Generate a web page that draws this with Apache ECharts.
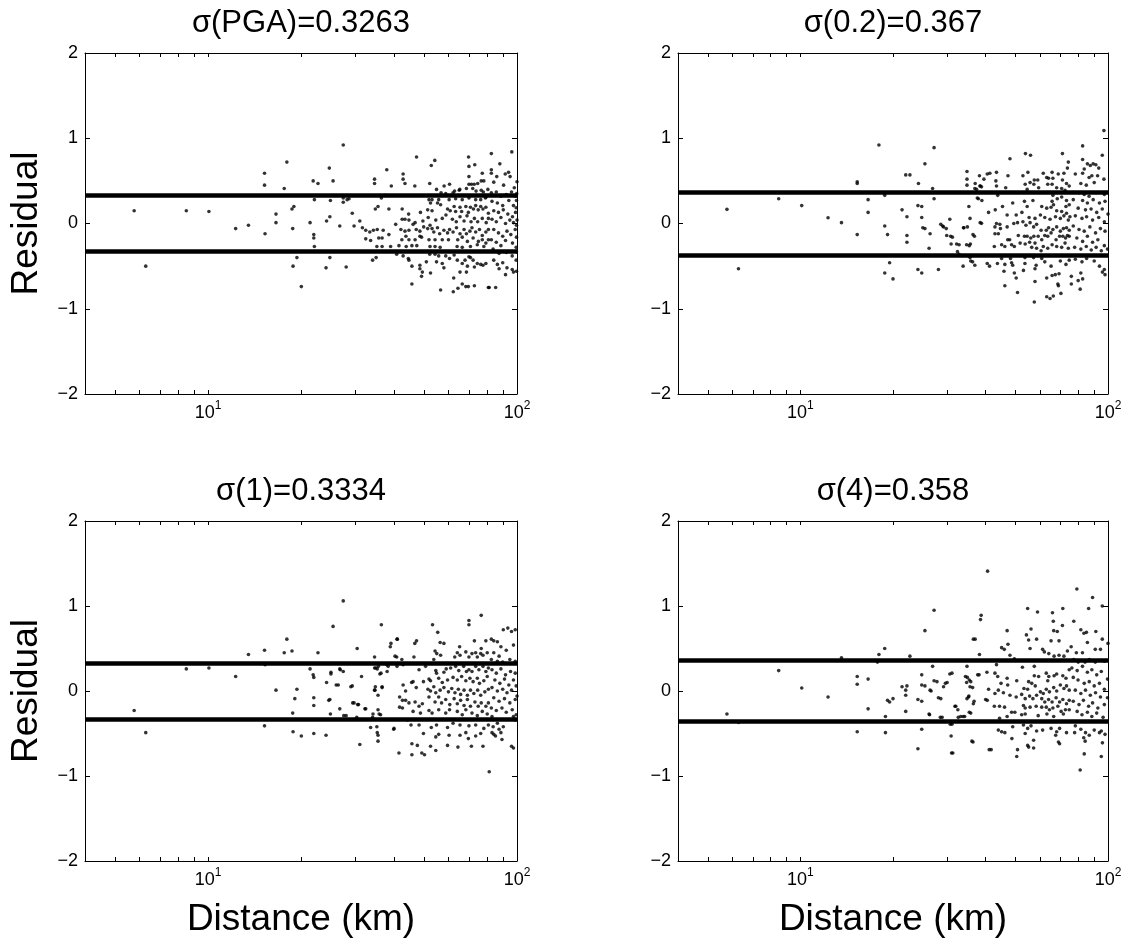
<!DOCTYPE html>
<html>
<head>
<meta charset="utf-8">
<script src="https://cdn.jsdelivr.net/npm/echarts@6.0.0/dist/echarts.min.js"></script>
<style>
html,body{margin:0;padding:0;background:#fff;}
#chart{width:1131px;height:949px;}
</style>
</head>
<body>
<div id="chart"></div>
<script>
// ---------- data ----------
const panelTitles = ['σ(PGA)=0.3263', 'σ(0.2)=0.367', 'σ(1)=0.3334', 'σ(4)=0.358'];
const sigmaValues = [0.3263, 0.367, 0.3334, 0.358];
const xRange = [4, 100];
const yRange = [-2, 2];
const xLabelTicks = [10, 100];
const xAllTicks = [5, 6, 7, 8, 9, 10, 20, 30, 40, 50, 60, 70, 80, 90, 100];
const yTickStep = 1;
const xAxisTitle = 'Distance (km)';
const yAxisTitle = 'Residual';

// [distance (km), residual]
const residualsPGA = [
[5.77,0.15],[6.29,-0.50],[8.51,0.15],[10.07,0.14],[12.29,-0.06],[13.52,-0.02],[15.24,0.59],[15.24,0.45],[15.3,-0.12],[16.6,0.11],[16.6,0.01],[17.65,0.41],[18.0,0.72],[18.7,0.17],[18.97,0.20],[18.8,-0.06],[18.85,-0.50],[19.4,-0.40],[20.05,-0.74],[21.4,0.01],[21.9,0.50],[22.7,0.47],[22.0,-0.13],[22.0,-0.17],[22.1,-0.27],[22.1,0.28],[24.2,0.03],[24.7,0.65],[24.8,0.08],[24.9,0.27],[24.8,-0.40],[24.1,-0.52],[25.4,0.50],[26.7,-0.03],[27.4,0.92],[27.4,0.30],[27.4,0.25],[28.0,-0.51],[28.6,0.29],[29.3,0.12],[29.7,-0.03],[31.0,0.03],[31.6,-0.05],[32.4,-0.18],[33.6,-0.20],[34.1,-0.43],[34.6,0.52],[34.6,0.47],[34.8,0.17],[35.0,-0.40],[35.2,-0.27],[35.3,-0.07],[36.4,0.30],[36.9,-0.08],[37.9,0.63],[37.5,0.33],[39.2,0.44],
[28.2,0.28],[35.5,0.20],[38.5,0.17],[32.4,-0.08],[33.4,-0.10],[34.3,-0.08],[35.7,-0.17],[36.6,-0.17],[38.5,-0.13],[36.6,-0.27],[39.0,-0.27],
[47.3,0.78],[54.2,0.74],[52.8,0.68],[69.7,0.78],[69.9,0.67],[73,0.69],[77.2,0.59],
[42.8,0.58],[42.8,0.52],[43.4,0.47],[46.7,0.44],[52.2,0.47],[54.9,0.40],[58.1,0.44],[60.5,0.46],[68.6,0.41],[69.9,0.46],[71.2,0.46],[72.7,0.46],[74.6,0.47],[76.6,0.50],[78.1,0.50],[80.5,0.40],[62.8,0.38],[65.3,0.40],[71.9,0.41],[73.7,0.38],[76.6,0.39],[69.9,0.55],
[56.8,0.36],[58.8,0.35],[62.1,0.36],[65,0.39],[77.8,0.37],[79.5,0.31],[51.9,0.28],[53.1,0.28],[55.8,0.28],[60.3,0.28],[63.3,0.29],[66.5,0.28],[69.9,0.30],[73.5,0.28],[76.3,0.28],[79,0.30],
[52.5,0.24],[55.3,0.24],[56.6,0.22],[59.6,0.17],[60.8,0.15],[62.6,0.20],[63.3,0.14],[65.4,0.19],[66.2,0.14],[68.3,0.20],[69.6,0.13],[70.7,0.19],[72.3,0.17],[73.5,0.21],[74.9,0.16],[76.3,0.20],[77.6,0.17],[79.3,0.19],[80.8,0.12],[51.4,0.16],[53.1,0.15],[48.7,0.13],[42.5,0.17],[44.6,0.11],[43.4,0.05],[42.5,0.05],[44.7,0.04],[46.8,0.01],[49.6,0.03],[51.6,0.07],[54.6,0.04],[57.3,0.06],[58.9,0.10],[61.8,0.05],[63.6,0.02],[65.4,0.08],[67.4,0.03],[68.9,0.09],[71,0.02],[72.8,0.06],[74.6,0.02],[77.2,0.06],[79.5,0.01],[80.8,0.06],
[40.5,-0.01],[42.1,-0.07],[43.4,-0.09],[44.7,-0.08],[46.1,-0.01],[47.2,-0.07],[48.5,-0.09],[49.9,-0.04],[51.4,-0.06],[52.3,-0.02],[53.1,-0.06],[53.8,-0.10],[55.3,-0.05],[56.2,-0.12],[58,-0.08],[59.6,-0.11],[60.5,-0.07],[62.1,-0.10],[63.7,-0.05],[65.4,-0.12],[67.4,-0.07],[68.6,-0.12],[70.4,-0.09],[71.5,-0.05],[73.5,-0.10],[75.6,-0.07],[77.2,-0.14],[79.3,-0.10],[80.8,-0.07],[43.7,-0.15],[49.1,-0.16],
[42.4,-0.19],[44.7,-0.19],[46.8,-0.19],[48.5,-0.15],[51.9,-0.19],[54.3,-0.19],[57.3,-0.19],[60,-0.19],[64.3,-0.19],[66.5,-0.16],[69.1,-0.21],[72.1,-0.17],[75,-0.21],[77.2,-0.19],[79.3,-0.23],[80.8,-0.19],[41.5,-0.26],[43.8,-0.27],[45.7,-0.26],[47.4,-0.26],[52.3,-0.27],[54.3,-0.27],[56.4,-0.28],[64,-0.27],[66.5,-0.28],[70.7,-0.27],[74.4,-0.25],[78.1,-0.27],
[40.8,-0.36],[42.8,-0.38],[44.5,-0.41],[44.7,-0.43],[45.7,-0.50],[48.5,-0.49],[48.5,-0.53],[49.4,-0.57],[49.1,-0.62],[50.9,-0.45],[52.2,-0.36],[54.3,-0.36],[54.9,-0.45],[57.3,-0.47],[55.8,-0.38],[58,-0.52],[58.8,-0.38],[60.5,-0.41],[62.6,-0.37],[64.1,-0.43],[65.4,-0.57],[66.5,-0.47],[67.9,-0.43],[69.1,-0.50],[69.9,-0.39],[70.7,-0.40],[72.1,-0.43],[72.8,-0.51],[74.4,-0.47],[76.3,-0.48],[77.6,-0.49],[79.3,-0.47],[68.6,-0.57],[62.4,-0.64],[52.5,-0.58],[45.7,-0.71],[56.6,-0.78],[62.2,-0.80],[64.4,-0.76],[66.5,-0.71],[68.3,-0.74],[69.6,-0.74],[72.8,-0.73],[80.8,-0.75],
[82.6,0.82],[82.6,0.63],[82.6,0.59],[88.0,0.70],[91.6,0.58],[93.9,0.60],[96.2,0.84],[100,0.49],[84.1,0.485],[82.6,0.36],[85.7,0.37],[88.7,0.32],[92.3,0.34],[96.0,0.37],[98.7,0.32],[83.0,0.26],[86.4,0.24],[89.9,0.21],[94.1,0.27],[97.4,0.21],[99.4,0.185],[84.1,0.15],[87.1,0.13],[90.3,0.16],[93.4,0.11],[96.7,0.08],[98.9,0.13],[83.0,0.05],[85.7,0.02],[88.7,0.07],[91.8,0.00],[94.8,0.04],[97.4,0.01],[100,0.04],[84.1,-0.07],[87.1,-0.11],[89.9,-0.15],[92.8,-0.09],[95.5,-0.13],[98.7,-0.07],[82.6,-0.19],[85.7,-0.22],[88.7,-0.26],[91.8,-0.20],[96.7,-0.23],[99.4,-0.28],[83.7,-0.30],[87.5,-0.35],[92.3,-0.34],[96.5,-0.38],[99.4,-0.43],[84.1,-0.43],[86.4,-0.48],[89.9,-0.46],[92.8,-0.52],[96.5,-0.54],[97.4,-0.57],[91.8,-0.60],[87.5,-0.53],[81.3,-0.75],[85.3,-0.75],
[99.6,0.27],[99.6,-0.02],[99.6,-0.16],[99.6,-0.33],[99.6,-0.56],[99.8,0.35],[90.5,0.45],[95,0.55],[98,0.42],[86,0.55]
];

const residuals02 = [
[5.77,0.166],[6.29,-0.53],[8.5,0.29],[10.1,0.21],[12.3,0.068],[13.6,0.01],[15.3,0.49],[15.3,0.47],[15.3,-0.13],[16.6,0.28],[16.6,0.13],[18.0,0.92],[18.8,0.33],[18.8,-0.03],[19.2,-0.13],[19.5,-0.46],[18.8,-0.58],[20.0,-0.65],[21.4,0.16],[22.0,0.57],[22.7,0.57],[22.2,0.08],[22.2,-0.14],[22.2,-0.22],[24.2,0.47],[24.1,0.21],[24.8,0.20],[24.8,0.07],[25.0,-0.05],[24.1,-0.54],[24.8,-0.58],[25.4,0.70],[26.2,-0.29],[26.4,-0.12],[27.2,0.89],[26.9,0.41],[27.2,0.29],[28.1,-0.54],[28.6,-0.01],[29.2,-0.04],[30.6,0.05],[29.9,-0.14],[30.8,-0.15],[31.2,-0.16],[30.9,-0.24],[32.2,-0.24],[32.4,-0.33],[33.9,-0.05],[33.8,-0.50],[34.8,0.61],[34.8,0.52],[34.8,0.45],[35.3,0.20],[35.6,0.06],[35.4,-0.26],[35.2,-0.38],[35.8,-0.44],[36.4,-0.13],[36.9,-0.49],[36.9,0.41],[38.2,0.56],[37.9,0.29],[38.4,0.01],[38.9,0.27],[40.5,0.58],[41.2,-0.50],
[25.4,-0.06],[29,-0.03],[29.8,-0.06],[32.8,-0.25],[32.8,-0.36],[34.0,-0.05],[34.9,-0.04],[34.7,-0.25],[35.7,-0.24],[35.6,-0.40],[36.3,-0.45],[37,0.47],[37.4,0.40],[37.6,0.30],[38.4,0.44],[36.8,-0.15],[40.5,-0.47],
[48.0,0.76],[53.9,0.82],[56.0,0.80],[71.1,0.82],[74.3,0.72],[73.8,0.65],
[41.3,0.59],[43.4,0.60],[47.3,0.56],[52.9,0.56],[54.9,0.60],[57.6,0.51],[59.1,0.51],[61.6,0.59],[63.2,0.54],[65.8,0.60],[64.1,0.53],[66.2,0.53],[68.9,0.58],[71.9,0.59],[71.1,0.51],[73.3,0.47],[43.2,0.50],[39.5,0.52],[38.4,0.44],[38.8,0.43],[43.4,0.44],[46.5,0.42],[53.8,0.46],[55.8,0.48],[57.4,0.46],[59.5,0.42],[54.6,0.40],[63.7,0.46],[65.8,0.46],[68.1,0.42],[70.7,0.41],[72.5,0.39],[74.8,0.44],
[43.8,0.33],[66.2,0.33],[68.4,0.29],[70.7,0.31],[73.3,0.27],[65.8,0.26],[66.5,0.22],[73,0.20],[74.8,0.22],[53.5,0.26],[57,0.27],[49.0,0.24],[54.6,0.20],[60.9,0.20],[63.2,0.18],[65.3,0.19],[68.1,0.15],[70.7,0.14],[73.3,0.12],[75.2,0.08],[40.9,0.13],[43,0.16],[45.4,0.20],[47.0,0.10],[50.3,0.10],[52.5,0.13],[55.4,0.07],[57.9,0.06],[60.3,0.10],[62.3,0.07],[64.8,0.05],[67.5,0.08],[70.0,0.06],[71.9,0.09],[74.3,0.04],
[38.8,0.002],[43.4,0.0],[44.5,-0.01],[42.9,-0.04],[44.7,-0.06],[47.0,-0.04],[49.4,0.00],[50.8,0.01],[52.9,0.02],[54.1,-0.02],[55.8,0.01],[57.3,-0.04],[58.6,-0.01],[60.6,-0.08],[63,-0.08],[64.1,-0.05],[66.2,-0.07],[68.1,-0.04],[70,-0.09],[71.6,-0.06],[73.3,-0.05],[74.8,-0.08],
[42.9,-0.12],[44.0,-0.12],[47.2,-0.19],[47.9,-0.19],[51.1,-0.14],[53.5,-0.15],[54.6,-0.15],[56.1,-0.17],[57.4,-0.15],[59.3,-0.15],[60.9,-0.19],[62.3,-0.14],[63.7,-0.15],[65.3,-0.11],[67.8,-0.19],[69.6,-0.15],[71.3,-0.15],[72.8,-0.17],[73.8,-0.14],[74.8,-0.15],
[45.1,-0.25],[46.2,-0.27],[48.6,-0.25],[49.6,-0.27],[51.8,-0.23],[53.8,-0.24],[55.6,-0.22],[56.5,-0.28],[57.9,-0.23],[58.6,-0.29],[60.6,-0.32],[61.6,-0.27],[63.7,-0.29],[65.8,-0.25],[68.1,-0.27],[70.7,-0.28],[72.5,-0.23],[74.3,-0.29],[42.7,-0.27],
[45.1,-0.41],[48.2,-0.41],[53.7,-0.40],[57.3,-0.40],[60.9,-0.41],[43.7,-0.47],[46.2,-0.48],[48.6,-0.46],[49.0,-0.49],[53.7,-0.47],[58.4,-0.49],[62.3,-0.45],[65.3,-0.50],[70.0,-0.44],[73.0,-0.48],[74.8,-0.43],[45.9,-0.56],[49.6,-0.58],[53.1,-0.55],[57.9,-0.53],[50.3,-0.64],[63.2,-0.64],[65.8,-0.61],[67.4,-0.60],[69.3,-0.59],[57.9,-0.68],[68.7,-0.71],[69,-0.73],[46.2,-0.73],[50.8,-0.81],[63.2,-0.86],[64.8,-0.88],[66.4,-0.85],[70.3,-0.82],[57.6,-0.92],
[97,1.09],[82.7,0.91],[95.8,0.80],[82.7,0.75],[85.7,0.70],[87.6,0.68],[89.5,0.70],[91.3,0.69],[93.3,0.65],[83.7,0.64],[78.3,0.58],[82.7,0.59],[88.6,0.56],[86.8,0.54],[92.5,0.56],[97,0.52],[81.6,0.47],[85,0.45],[90.2,0.48],[80.5,0.36],[83.7,0.34],[86.8,0.32],[91.7,0.36],[97.3,0.34],[77.1,0.28],[82.7,0.27],[85.7,0.24],[89.5,0.28],[93.8,0.24],[97.8,0.26],[80.0,0.18],[84.5,0.16],[88.1,0.17],[91.9,0.13],[95.8,0.17],[100,0.11],[78.3,0.09],[82.3,0.06],[85.2,0.08],[89.1,0.04],[93.3,0.07],[97.3,0.02],[77.1,-0.03],[80.5,-0.07],[83.7,-0.09],[87.3,-0.04],[91.1,-0.11],[94.5,-0.06],[97.8,-0.09],[79.2,-0.17],[82.7,-0.21],[85.7,-0.15],[89.1,-0.22],[92.7,-0.19],[97.3,-0.26],[77.9,-0.28],[81.6,-0.30],[85.0,-0.27],[88.2,-0.31],[91.5,-0.28],[95.1,-0.32],[99.6,-0.30],[78.3,-0.42],[82.3,-0.45],[85.2,-0.41],[90.2,-0.44],[93.8,-0.50],[97.3,-0.54],[95.9,-0.57],[97.8,-0.60],[81.6,-0.58],[76,-0.62],[80,-0.67],[82.7,-0.65],[81.2,-0.77],[76,-0.71]
];

const residuals1 = [
[5.77,-0.23],[6.29,-0.49],[8.51,0.26],[10.07,0.27],[12.29,0.17],[13.52,0.43],[15.24,0.48],[15.3,0.31],[15.24,-0.41],[16.6,0.01],[17.65,0.45],[18.0,0.61],[18.7,0.47],[18.8,-0.26],[18.85,-0.48],[19.1,-0.09],[19.4,0.02],[20.05,-0.53],[21.4,0.26],[21.9,0.19],[22.0,0.16],[22.0,-0.08],[22.0,-0.17],[22.0,-0.50],[22.7,0.45],[24.1,-0.52],[24.2,0.10],[24.8,-0.10],[24.9,-0.27],[25.0,0.22],[25.4,0.76],[26.4,0.07],[26.7,-0.21],[26.8,0.25],[27.4,1.06],[27.4,0.23],[28.0,-0.29],[29.3,0.06],[29.7,-0.14],[30.4,0.50],[30.7,-0.16],[31.0,-0.63],[31.4,0.17],[32.4,-0.21],[33.6,-0.43],[34.1,-0.31],[34.6,0.40],[34.6,0.27],[34.6,0.01],[34.8,0.05],[35.2,-0.42],[35.3,-0.49],[35.5,-0.59],[35.6,0.29],[36.4,0.78],[36.3,0.21],[36.6,0.05],[36.2,-0.28],[37.9,0.31],[38.9,0.52],[39.9,-0.45],[40.9,0.61],[40.3,0.41],
[25.0,0.20],[26.7,0.26],[34.9,0.27],[35.3,0.26],[38.3,0.29],[38.0,0.23],[36,0.20],[26.0,0.07],[29.0,0.05],[24.6,-0.11],[34.7,0.01],[36.6,0.04],[35.5,-0.05],[29.4,-0.14],[30.5,-0.16],[32.2,-0.21],[35.5,-0.22],[34.2,-0.27],[35.8,-0.27],[27.5,-0.29],[30.3,-0.31],[35.5,-0.52],[39.1,0.56],[40,-0.44],
[53.3,0.78],[55.4,0.69],[69.9,0.83],[69.9,0.78],[76.6,0.89],[47.3,0.59],[46.7,0.56],[41.0,0.61],[56.4,0.57],[58.0,0.56],[54.3,0.47],[55.0,0.44],[56.6,0.42],[65.2,0.52],[72.8,0.59],[79.3,0.59],[64.1,0.45],[65.4,0.42],[68.3,0.46],[71.5,0.44],[73.5,0.45],[76.3,0.44],[77.6,0.42],[76.6,0.50],[80.1,0.45],[69.9,0.40],[74.4,0.40],[62.9,0.40],[40.8,0.40],[42.4,0.37],[46.4,0.40],[53.8,0.37],
[40.9,0.29],[42.8,0.31],[48.2,0.25],[50.6,0.29],[54.6,0.24],[54.9,0.21],[58.0,0.22],[59.0,0.26],[61.0,0.27],[63.3,0.29],[64.8,0.24],[67.2,0.29],[68.6,0.23],[69.9,0.25],[71.5,0.23],[73.5,0.29],[75.3,0.25],[77.6,0.29],[79.3,0.23],[80.8,0.27],[51.9,0.14],[52.5,0.12],[55.8,0.15],[57.3,0.10],[59.6,0.13],[62.1,0.16],[64.1,0.13],[66.2,0.17],[68.3,0.12],[70.4,0.15],[72.1,0.11],[74.4,0.15],[75.6,0.09],[78.1,0.12],[80.1,0.17],[42.8,0.07],[43.6,0.0],[45.6,0.10],[46.1,0.11],[47.2,0.04],[49.8,0.11],[51.5,0.02],[52.5,0.0],[53.8,0.05],[54.6,-0.02],[56.4,0.01],[58.0,0.04],[60.0,-0.01],[61.5,0.03],[63.0,-0.02],[64.6,0.02],[65.7,-0.04],[67.4,0.01],[69.1,-0.05],[70.7,0.01],[72.5,-0.03],[74.6,0.01],[76.3,-0.05],[78.7,-0.01],[80.8,0.02],
[41.7,-0.07],[42.6,-0.11],[43.6,-0.11],[44.7,-0.14],[41.7,-0.19],[42.6,-0.20],[46.8,-0.13],[49.4,-0.15],[51.9,-0.07],[54.3,-0.13],[55.8,-0.07],[57.0,-0.14],[58.8,-0.10],[60.6,-0.16],[62.6,-0.09],[64.1,-0.15],[65.7,-0.11],[67.4,-0.17],[69.1,-0.10],[70.7,-0.18],[73.1,-0.13],[74.9,-0.18],[76.6,-0.14],[79.3,-0.18],[80.8,-0.14],[48.2,-0.18],[46.1,-0.24],[48.7,-0.26],[51.9,-0.23],[53.1,-0.26],[55.8,-0.22],[58.8,-0.26],[60.5,-0.22],[64.1,-0.24],[66.5,-0.28],[68.3,-0.22],[71.5,-0.26],[74.4,-0.29],[77.2,-0.24],[80.1,-0.27],[44.2,-0.34],
[45.4,-0.40],[48.2,-0.40],[52.8,-0.43],[54.9,-0.40],[59.6,-0.43],[62.1,-0.38],[65.4,-0.40],[69.9,-0.41],[73.5,-0.40],[78.1,-0.44],[80.8,-0.40],[49.8,-0.50],[55.8,-0.51],[54.6,-0.54],[60.3,-0.52],[65.4,-0.52],[68.3,-0.49],[69.6,-0.56],[73.5,-0.53],[76.3,-0.50],[77.6,-0.65],[45.7,-0.62],[47.6,-0.64],[52.5,-0.65],[54.6,-0.70],[59.6,-0.64],[64.4,-0.66],[71.2,-0.65],[41.5,-0.73],[45.7,-0.75],[49.2,-0.73],[50.2,-0.75],
[81.3,-0.95],[82.6,0.61],[84.1,0.59],[86.4,0.58],[88.7,0.52],[90.3,0.72],[93.4,0.74],[96.0,0.70],[98.7,0.72],[97.4,0.54],[92.3,0.48],[84.1,0.45],[87.5,0.41],[82.6,0.37],[86.4,0.35],[89.9,0.34],[94.8,0.37],[98.7,0.35],[83,0.25],[85.7,0.21],[88.7,0.26],[91.8,0.19],[95.3,0.23],[98.7,0.21],[84.8,0.13],[88,0.09],[91.1,0.14],[94.1,0.07],[97.4,0.13],[99.4,0.06],[83,0.04],[86.4,0.0],[89.9,0.02],[92.8,-0.02],[96,0.01],[100,-0.06],[84.1,-0.08],[87.5,-0.12],[91.1,-0.09],[94.8,-0.14],[98.7,-0.10],[82.6,-0.20],[85.7,-0.23],[89.4,-0.20],[92.3,-0.25],[96.5,-0.22],[99.4,-0.28],[83,-0.30],[97.4,-0.30],[98.7,-0.34],[86.4,-0.38],[83.7,-0.42],[87.5,-0.45],[90.3,-0.42],[83,-0.49],[85.2,-0.53],[88.7,-0.49],[96,-0.65],[97.4,-0.67],[89.4,-0.57],[84.1,-0.51]
];

const residuals4 = [
[5.77,-0.27],[6.3,-0.37],[8.5,0.24],[10.1,0.035],[12.3,-0.07],[13.6,0.39],[15.3,0.17],[15.3,0.08],[15.3,-0.48],[16.6,0.14],[16.6,-0.21],[17.8,0.34],[18.0,0.43],[18.8,0.50],[18.9,-0.30],[18.9,-0.49],[19.2,-0.11],[19.5,-0.13],[20.0,-0.09],[21.4,0.05],[22.0,0.01],[22.2,0.06],[22.0,-0.05],[22.0,-0.24],[22.7,0.41],[24.1,-0.10],[24.8,-0.12],[24.1,-0.68],[24.8,0.19],[24.8,0.07],[24.8,-0.45],[25.4,0.71],[26.2,-0.27],[26.4,0.01],[26.9,0.29],[27.2,0.95],[27.2,0.12],[28.1,-0.08],[28.5,-0.31],[29.2,0.05],[29.6,0.09],[30.6,0.20],[30.7,-0.39],[30.9,-0.53],[31.0,-0.73],[31.8,-0.18],[32.5,-0.22],[32.6,-0.31],[33.8,-0.30],[34.4,0.17],[34.9,0.16],[34.8,0.29],[34.8,-0.09],[35.2,-0.07],[35.4,0.13],[35.6,0.05],[35.4,-0.25],[36.1,-0.59],[36.5,0.61],[36.7,-0.12],[37.7,0.19],[38.2,0.43],[38.5,0.84],[38.7,0.89],[40.0,-0.10],[40.6,1.41],[40.4,0.22],[40.9,0.02],[41.1,-0.69],
[25.4,0.06],[27.8,0.11],[30.0,0.10],[31.1,0.21],[34.7,0.10],[35.8,0.11],[36.3,0.04],[35.3,-0.06],[36.5,-0.15],[38.1,0.19],[37.0,0.61],[40.5,-0.11],[26.6,0.0],[28.6,-0.09],[32.0,-0.18],[34.2,-0.30],[35.8,-0.26],[26.3,-0.28],[28.9,-0.31],[31.1,-0.39],[36.4,-0.60],[31.3,-0.73],[41.7,-0.69],[33.2,-0.30],
[54.8,0.97],[59.0,0.93],[66.0,0.92],[71.3,0.97],[66.4,0.82],[71.1,0.77],[47.0,0.71],[68.4,0.70],[66.6,0.71],[54.3,0.66],[56.2,0.73],[55.2,0.60],[58.6,0.61],[65.3,0.59],[69.3,0.59],[55.8,0.50],[47.3,0.55],[45.1,0.51],[46.0,0.49],[61.3,0.49],[62.1,0.46],[64.2,0.44],[66.8,0.41],[69.3,0.42],[71.9,0.41],[73.8,0.47],[48.0,0.42],[49.6,0.38],[43.4,0.31],[42.9,0.21],[47.0,0.15],[43.8,0.17],[44.9,0.09],[47.2,0.07],[50.5,0.12],[52.7,0.28],[57.6,0.29],[57.6,0.18],[59.5,0.17],[63.0,0.21],[64.2,0.17],[66.8,0.18],[68.1,0.20],[71.3,0.18],[73.0,0.15],[74.8,0.25],[63.7,0.12],[55.2,0.11],[56.5,0.09],[53.3,0.03],[54.8,0.02],[58.0,0.06],[60.3,-0.01],[61.6,-0.03],[63.0,0.02],[64.5,-0.01],[66.6,0.04],[68.1,0.0],[70.0,0.07],[71.9,0.03],[73.3,0.06],[74.8,0.01],
[42.9,-0.03],[44.0,0.01],[45.7,-0.02],[48.0,-0.05],[50.3,-0.07],[52.4,-0.04],[53.8,-0.09],[55.6,-0.06],[57.0,-0.09],[58.6,-0.05],[60.9,-0.09],[62.3,-0.13],[64.1,-0.10],[65.8,-0.13],[67.8,-0.08],[69.6,-0.13],[71.3,-0.10],[73.3,-0.15],[74.8,-0.11],[42.7,-0.18],[44.4,-0.18],[46.1,-0.19],[48.6,-0.25],[49.8,-0.25],[53.1,-0.17],[53.8,-0.20],[53.8,-0.27],[55.8,-0.19],[58.4,-0.18],[60.9,-0.19],[63.0,-0.19],[64.5,-0.22],[66.2,-0.20],[68.7,-0.18],[70.4,-0.24],[72.7,-0.22],[71.6,-0.27],[74.8,-0.22],[44.4,-0.32],[47.0,-0.30],[52.4,-0.28],[59.3,-0.29],[63.3,-0.27],[66.6,-0.30],
[44.0,-0.46],[45.1,-0.48],[46.2,-0.49],[49.0,-0.42],[53.1,-0.40],[54.8,-0.44],[56.2,-0.41],[53.8,-0.50],[58.6,-0.47],[61.3,-0.46],[65.3,-0.44],[68.1,-0.48],[69.6,-0.44],[67.6,-0.52],[73.3,-0.49],[48.7,-0.56],[57.3,-0.58],[54.8,-0.64],[55.2,-0.66],[57.3,-0.67],[69.0,-0.60],[69.6,-0.62],[50.8,-0.69],[50.5,-0.77],
[79.2,1.20],[89.1,1.10],[86.5,0.97],[95.8,1.00],[77.4,0.82],[81.6,0.72],[83.5,0.68],[85.1,0.69],[91.3,0.70],[85.7,0.57],[95.8,0.61],[100,0.56],[75.9,0.52],[78.9,0.45],[82.6,0.45],[90.9,0.49],[94.5,0.49],[77.4,0.37],[80.0,0.34],[84.2,0.34],[86.9,0.37],[90.9,0.34],[97.3,0.35],[76.3,0.27],[79.4,0.24],[82.6,0.29],[85.7,0.22],[88.6,0.25],[91.9,0.19],[95.1,0.23],[99.6,0.14],[77.1,0.16],[79.9,0.13],[83.7,0.09],[86.9,0.11],[90.2,0.06],[93.8,0.09],[97.3,0.02],[78.3,0.01],[81.6,-0.03],[84.5,0.01],[87.6,-0.05],[91.1,-0.02],[94.5,-0.07],[99.6,-0.08],[77.1,-0.12],[80.5,-0.16],[83.2,-0.11],[86.5,-0.18],[89.1,-0.14],[92.7,-0.20],[97.3,-0.16],[79.4,-0.24],[82.3,-0.28],[85.7,-0.25],[88.6,-0.30],[91.9,-0.26],[96.4,-0.31],[78.3,-0.41],[81.6,-0.45],[84.5,-0.49],[83.4,-0.55],[84.3,-0.59],[86.9,-0.52],[90.2,-0.46],[93.8,-0.49],[95.1,-0.47],[97.8,-0.51],[95.9,-0.61],[83.7,-0.74],[95.1,-0.77],[81.2,-0.93],[77.9,-0.49]
];

const panelData = [residualsPGA, residuals02, residuals1, residuals4];

// ---------- layout ----------
const FONT = "'Liberation Sans', Arial, Helvetica, sans-serif";
const grids = [
  {left: 85, top: 53, width: 432, height: 341},
  {left: 678, top: 53, width: 430, height: 341},
  {left: 85, top: 521, width: 432, height: 340},
  {left: 678, top: 521, width: 430, height: 340}
];
const titleTops = [8, 8, 476, 476];

const chart = echarts.init(document.getElementById('chart'), null, {renderer: 'canvas'});

const xAxes = [], yAxes = [], series = [], titles = [];
const axisLineStyle = {color: '#000', width: 1};

function supFormatter(v) {
  const e = Math.round(Math.log10(v));
  return '{b|10}{s|' + e + '}';
}

grids.forEach((g, i) => {
  const bottomRow = i >= 2, leftCol = (i % 2) === 0;
  titles.push({
    text: panelTitles[i], left: g.left + g.width / 2, top: titleTops[i], textAlign: 'center', padding: 0,
    textStyle: {fontSize: 31, fontWeight: 'normal', color: '#000', fontFamily: FONT}
  });
  xAxes.push({
    type: 'log', logBase: 10, gridIndex: i, min: xRange[0], max: xRange[1], position: 'bottom',
    axisLine: {show: true, onZero: false, lineStyle: axisLineStyle},
    axisTick: {show: true, inside: true, length: 4, customValues: xAllTicks, lineStyle: axisLineStyle},
    axisLabel: {
      show: true, customValues: xLabelTicks, formatter: supFormatter, margin: 6, color: '#000',
      rich: {
        b: {fontSize: 18, fontFamily: FONT, color: '#000', lineHeight: 26},
        s: {fontSize: 12, fontFamily: FONT, color: '#000', verticalAlign: 'top', lineHeight: 13}
      }
    },
    splitLine: {show: false},
    name: bottomRow ? xAxisTitle : '', nameLocation: 'middle', nameGap: 40,
    nameTextStyle: {fontSize: 37, color: '#000', fontFamily: FONT}
  });
  xAxes.push({
    type: 'log', logBase: 10, gridIndex: i, min: xRange[0], max: xRange[1], position: 'top',
    axisLine: {show: true, onZero: false, lineStyle: axisLineStyle},
    axisTick: {show: true, inside: true, length: 4, customValues: xAllTicks, lineStyle: axisLineStyle},
    axisLabel: {show: false}, splitLine: {show: false}
  });
  yAxes.push({
    type: 'value', gridIndex: i, min: yRange[0], max: yRange[1], interval: yTickStep, position: 'left',
    axisLine: {show: true, onZero: false, lineStyle: axisLineStyle},
    axisTick: {show: true, inside: true, length: 5, lineStyle: axisLineStyle},
    axisLabel: {show: true, margin: 7, color: '#000', fontSize: 18, fontFamily: FONT,
      formatter: v => String(v).replace('-', '\u2212')},
    splitLine: {show: false},
    name: leftCol ? yAxisTitle : '', nameLocation: 'middle', nameGap: 40, nameRotate: 90,
    nameTextStyle: {fontSize: 37, color: '#000', fontFamily: FONT}
  });
  yAxes.push({
    type: 'value', gridIndex: i, min: yRange[0], max: yRange[1], interval: yTickStep, position: 'right',
    axisLine: {show: true, onZero: false, lineStyle: axisLineStyle},
    axisTick: {show: true, inside: true, length: 5, lineStyle: axisLineStyle},
    axisLabel: {show: false}, splitLine: {show: false}
  });
  series.push({
    type: 'scatter', xAxisIndex: 2 * i, yAxisIndex: 2 * i,
    data: panelData[i], symbol: 'circle', symbolSize: 3.6,
    itemStyle: {color: '#000'}, silent: true,
    markLine: {
      silent: true, symbol: 'none', label: {show: false},
      lineStyle: {color: '#000', width: 4.5, type: 'solid'},
      data: [{yAxis: sigmaValues[i]}, {yAxis: -sigmaValues[i]}]
    }
  });
});

chart.setOption({
  animation: false,
  backgroundColor: '#fff',
  title: titles,
  grid: grids.map(g => Object.assign({containLabel: false}, g)),
  xAxis: xAxes,
  yAxis: yAxes,
  series: series
});
</script>
</body>
</html>
